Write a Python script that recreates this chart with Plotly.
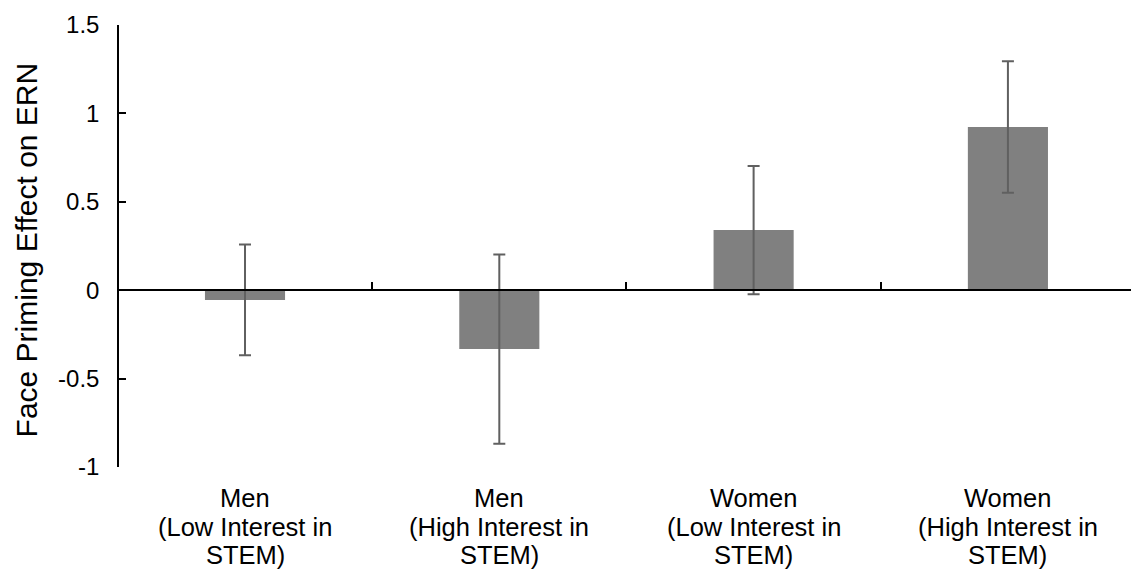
import plotly.graph_objects as go

# Group labels (one entry per line of each label)
groups = [
    ["Men", "(Low Interest in", "STEM)"],
    ["Men", "(High Interest in", "STEM)"],
    ["Women", "(Low Interest in", "STEM)"],
    ["Women", "(High Interest in", "STEM)"],
]
# Mean face-priming effect on the ERN and its error (±)
effect = [-0.055, -0.333, 0.34, 0.923]
effect_err = [0.313, 0.535, 0.363, 0.372]

y_ticks = [-1, -0.5, 0, 0.5, 1, 1.5]
y_tick_text = ["-1", "-0.5", "0", "0.5", "1", "1.5"]

FONT = "Liberation Sans, Arial, sans-serif"
x_pos = list(range(len(groups)))

fig = go.Figure(
    go.Bar(
        x=x_pos,
        y=effect,
        width=0.315,
        marker=dict(color="#808080", line=dict(width=0)),
        error_y=dict(
            type="data",
            array=effect_err,
            color="#606060",
            thickness=2,
            width=6,
        ),
        showlegend=False,
    )
)

# Group labels under the plot, one annotation per text line
line_shifts = [-31, -59.5, -88]
for i, lines in enumerate(groups):
    for text, shift in zip(lines, line_shifts):
        fig.add_annotation(
            x=x_pos[i], xref="x", y=0, yref="paper",
            text=text, showarrow=False,
            xanchor="center", yanchor="middle", yshift=shift,
            font=dict(family=FONT, size=25.5, color="black"),
        )

# Y axis title
fig.add_annotation(
    x=0, xref="paper", y=0.49, yref="paper",
    text="Face Priming Effect on ERN", textangle=-90,
    showarrow=False, xanchor="center", yanchor="middle", xshift=-93,
    font=dict(family=FONT, size=30, color="black"),
)

fig.update_layout(
    width=1131,
    height=573,
    margin=dict(l=119, r=0, t=25, b=106),
    paper_bgcolor="white",
    plot_bgcolor="white",
    xaxis=dict(
        range=[-0.4955, 3.484],
        anchor="free",
        position=0.4,
        showline=True,
        linecolor="black",
        linewidth=2,
        ticks="inside",
        tickvals=[0.5, 1.5, 2.5],
        ticklen=7,
        tickwidth=2,
        tickcolor="black",
        showticklabels=False,
        showgrid=False,
        zeroline=False,
    ),
    yaxis=dict(
        range=[-1, 1.5],
        showline=True,
        linecolor="black",
        linewidth=1.5,
        ticks="inside",
        ticklen=7,
        tickwidth=1.5,
        tickcolor="black",
        tickvals=y_ticks,
        ticktext=y_tick_text,
        ticklabelstandoff=13,
        tickfont=dict(family=FONT, size=24, color="black"),
        showgrid=False,
        zeroline=False,
    ),
)

fig.write_html("out.html")
